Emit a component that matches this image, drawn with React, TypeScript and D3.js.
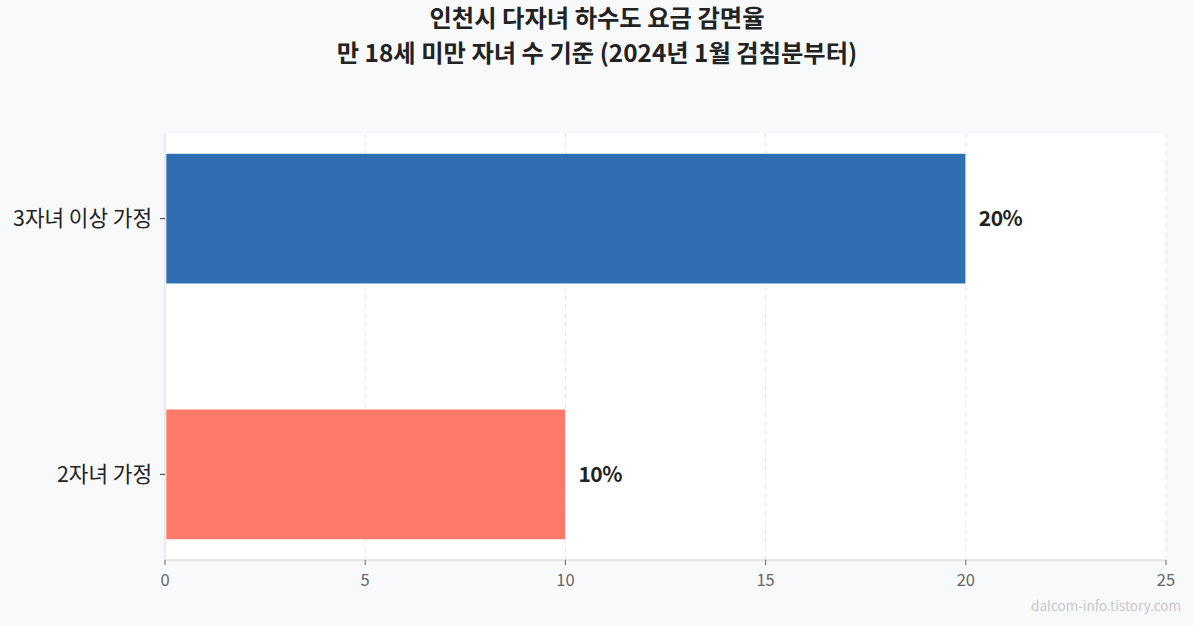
import React from 'react'
import * as d3 from 'd3'

const categories = ['3자녀 이상 가정', '2자녀 가정']
const rates = [20, 10]
const barColors = ['#2f6fb1', '#ff7a6b']
const xTicks = [0, 5, 10, 15, 20, 25]
const titleLines = ['인천시 다자녀 하수도 요금 감면율', '만 18세 미만 자녀 수 기준 (2024년 1월 검침분부터)']

const W = 1194
const H = 626
const margin = { top: 133, right: 28, bottom: 66, left: 165 }
const font = '"Noto Sans CJK KR", "Noto Sans", sans-serif'

export default function App() {
  const plotW = W - margin.left - margin.right
  const plotH = H - margin.top - margin.bottom

  const x = d3.scaleLinear().domain([0, 25]).range([0, plotW])
  const y = d3.scaleBand<string>()
    .domain(categories)
    .range([0, plotH])
    .paddingInner(0.49)
    .paddingOuter(0.08)

  return (
    <div style={{ position: 'fixed', left: 0, top: 0, width: W, height: H, background: '#f8f9fa' }}>
      <svg width={W} height={H} style={{ display: 'block', fontFamily: font }}>
        <rect width={W} height={H} fill="#f8f9fa" />
        {titleLines.map((t, i) => (
          <text key={i} x={597} y={27 + i * 35} textAnchor="middle" fontSize={24.3} fontWeight={700} fill="#222">
            {t}
          </text>
        ))}
        <g transform={`translate(${margin.left},${margin.top})`}>
          <rect width={plotW} height={plotH} fill="#fff" />
          {/* grid */}
          {xTicks.slice(1).map(t => (
            <line key={t} x1={x(t)} x2={x(t)} y1={0} y2={plotH} stroke="#e6e6e6" strokeDasharray="5,4" />
          ))}
          {/* bars */}
          {categories.map((c, i) => (
            <g key={c}>
              <rect x={x(0) + 1} y={y(c)} width={x(rates[i]) - x(0) - 1} height={y.bandwidth()} fill={barColors[i]} stroke="#fff" strokeWidth={0.6} />
              <text x={x(rates[i]) + 13} y={(y(c) ?? 0) + y.bandwidth() / 2} dy="0.35em" fontSize={21} fontWeight={700} fill="#222" letterSpacing={-0.5}>
                {rates[i]}%
              </text>
            </g>
          ))}
          {/* left axis */}
          <line x1={0} x2={0} y1={0} y2={plotH} stroke="#d9d9d9" />
          {categories.map(c => (
            <g key={c} transform={`translate(0,${(y(c) ?? 0) + y.bandwidth() / 2})`}>
              <line x1={-5} x2={0} stroke="#333" />
              <text x={-13} dy="0.35em" textAnchor="end" fontSize={21.3} fill="#222">{c}</text>
            </g>
          ))}
          {/* bottom axis */}
          <line x1={0} x2={plotW} y1={plotH} y2={plotH} stroke="#d0d0d0" />
          {xTicks.map(t => (
            <g key={t} transform={`translate(${x(t)},${plotH})`}>
              <line y1={0} y2={5} stroke="#666" />
              <text y={26} textAnchor="middle" fontSize={16.5} fill="#666">{t}</text>
            </g>
          ))}
        </g>
        <text x={1181} y={611} textAnchor="end" fontSize={13.5} fill="#c8c8c8">dalcom-info.tistory.com</text>
      </svg>
    </div>
  )
}
